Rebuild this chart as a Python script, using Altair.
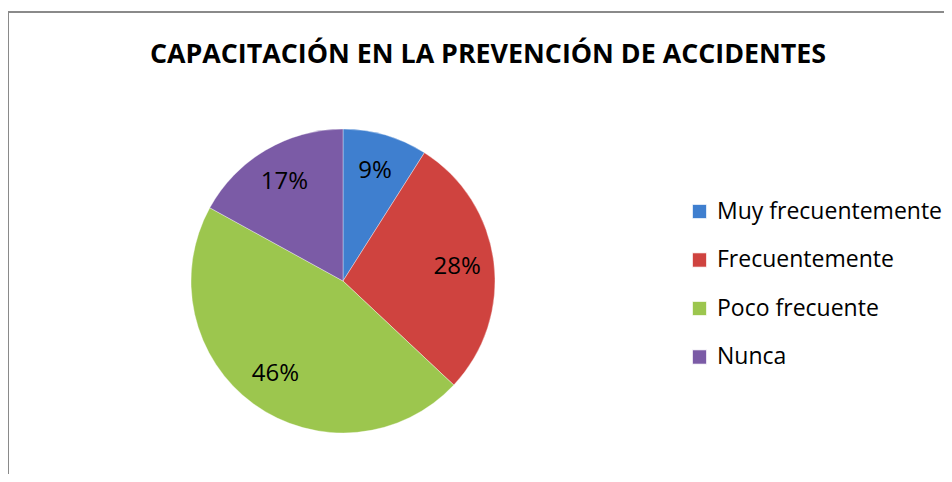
import altair as alt
import pandas as pd

categories = ["Muy frecuentemente", "Frecuentemente", "Poco frecuente", "Nunca"]
values = [9, 28, 46, 17]
labels = ["9%", "28%", "46%", "17%"]
colors = ["#3f7fcf", "#cf433f", "#9cc64e", "#7b5ba6"]
title_text = "CAPACITACIÓN EN LA PREVENCIÓN DE ACCIDENTES"

df = pd.DataFrame({"cat": categories, "val": values, "lab": labels, "ord": list(range(len(categories)))})

FONT = "Open Sans"
CX, CY, R = 335, 273, 152

color_scale = alt.Scale(domain=categories, range=colors)

base = alt.Chart(df).encode(
    theta=alt.Theta("val:Q", stack=True),
    order=alt.Order("ord:Q"),
)

pie = base.mark_arc(outerRadius=R, stroke="#ffffff", strokeWidth=0.6, strokeOpacity=0.6).encode(
    x=alt.value(CX), y=alt.value(CY),
    color=alt.Color("cat:N", scale=color_scale, sort=categories,
                    legend=alt.Legend(title=None, orient="none", legendX=680, legendY=192,
                                      symbolType="square", symbolSize=210,
                                      symbolStrokeWidth=1, labelFontSize=23, labelFont=FONT,
                                      labelColor="black", rowPadding=24.5, labelOffset=6,
                                      labelLimit=400)),
)

text = base.mark_text(radius=115, fontSize=24, font=FONT, color="black").encode(
    x=alt.value(CX), y=alt.value(CY), text="lab:N"
)

title = alt.Chart(pd.DataFrame({"t": [title_text]})).mark_text(
    fontSize=26.8, fontWeight="bold", font=FONT, color="black", baseline="middle"
).encode(x=alt.value(480), y=alt.value(47), text="t:N")

frame = alt.Chart(pd.DataFrame({"t": [0]})).mark_rect(
    fill=None, stroke="#8a8a8a", strokeWidth=2
).encode(x=alt.value(0), x2=alt.value(990), y=alt.value(4), y2=alt.value(520))

chart = alt.layer(frame, pie, text, title).properties(
    width=936, height=466, padding=0, autosize=alt.AutoSizeParams(type="none")
).configure_view(stroke=None)

chart.save("out.html", embed_options={"renderer": "svg", "actions": False})
